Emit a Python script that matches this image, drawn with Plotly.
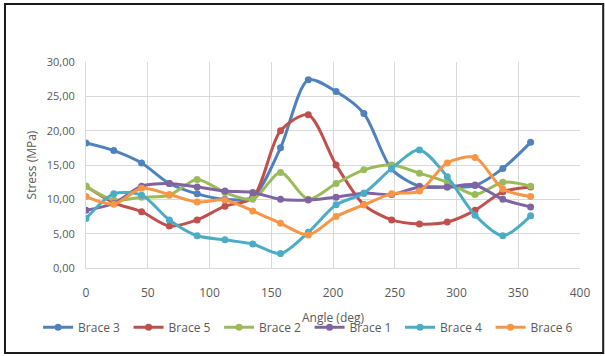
import plotly.graph_objects as go

angles = [0, 22.5, 45, 67.5, 90, 112.5, 135, 157.5, 180, 202.5, 225, 247.5, 270, 292.5, 315, 337.5, 360]

brace3 = [18.2, 17.1, 15.3, 12.3, 10.8, 10.0, 10.3, 17.5, 27.4, 25.7, 22.5, 14.4, 11.9, 11.8, 12.0, 14.5, 18.3]
brace5 = [11.9, 9.5, 8.2, 6.1, 7.0, 9.0, 10.2, 20.0, 22.3, 15.0, 9.2, 7.0, 6.4, 6.7, 8.4, 11.1, 11.8]
brace2 = [11.9, 9.9, 10.3, 10.6, 12.9, 11.0, 10.0, 13.9, 10.0, 12.3, 14.3, 15.0, 13.8, 12.5, 10.7, 12.5, 11.9]
brace1 = [8.4, 9.4, 11.9, 12.3, 11.8, 11.2, 11.0, 10.0, 9.9, 10.3, 10.9, 10.7, 11.8, 11.8, 12.1, 10.0, 8.9]
brace4 = [7.2, 10.8, 10.6, 7.0, 4.7, 4.1, 3.5, 2.1, 5.2, 9.2, 10.9, 14.5, 17.2, 13.3, 7.7, 4.7, 7.6]
brace6 = [10.4, 9.3, 11.6, 10.7, 9.6, 9.9, 8.3, 6.5, 4.8, 7.5, 9.2, 10.8, 11.2, 15.3, 16.1, 11.5, 10.4]

series = [
    ("Brace 3", brace3, "#4F81BD"),
    ("Brace 5", brace5, "#C0504D"),
    ("Brace 2", brace2, "#9BBB59"),
    ("Brace 1", brace1, "#8064A2"),
    ("Brace 4", brace4, "#4BACC6"),
    ("Brace 6", brace6, "#F79646"),
]

fig = go.Figure()
for name, vals, col in series:
    fig.add_trace(go.Scatter(
        x=angles, y=vals, name=name, mode="lines+markers",
        line=dict(color=col, width=3, shape="spline", smoothing=0.8),
        marker=dict(color=col, size=7, symbol="circle"),
    ))

font_c = "#595959"
fig.update_layout(
    width=605, height=356,
    margin=dict(l=86, r=25, t=62, b=88, autoexpand=False),
    paper_bgcolor="white", plot_bgcolor="white",
    separators=",.",
    font=dict(family="Open Sans, sans-serif", size=11, color=font_c),
    showlegend=True,
    legend=dict(orientation="h", x=-0.097, xanchor="left", y=-0.288, yanchor="middle",
                font=dict(size=12, color=font_c), itemwidth=30, entrywidth=45.5,
                tracegroupgap=0, bgcolor="rgba(0,0,0,0)"),
    xaxis=dict(range=[0, 400], dtick=50, tick0=0, showgrid=True, gridcolor="#D9D9D9",
               gridwidth=1, zeroline=False, showline=True, linecolor="#D9D9D9",
               ticks="", tickfont=dict(size=12, color=font_c), automargin=False,
               ticklabelstandoff=14),
    yaxis=dict(range=[0, 30], dtick=5, tickformat=".2f", showgrid=True, gridcolor="#D9D9D9",
               gridwidth=1, zeroline=False, showline=True, linecolor="#D9D9D9",
               ticks="", tickfont=dict(size=11, color=font_c), automargin=False,
               ticklabelstandoff=8,
               title=dict(text="Stress (MPa)", font=dict(size=12, color=font_c), standoff=7)),
    annotations=[dict(text="Angle (deg)", xref="paper", yref="paper", x=0.5, y=-0.238,
                      xanchor="center", yanchor="middle", showarrow=False,
                      font=dict(size=12, color=font_c))],
)
fig.add_shape(type="rect", xref="paper", yref="paper",
              x0=-0.164, x1=1.047, y0=-0.413, y1=1.282,
              line=dict(color="#1a1a1a", width=2), fillcolor="rgba(0,0,0,0)", layer="below")

fig.write_html("out.html", config={"displayModeBar": False},
               post_script="document.body.style.margin='0';")
